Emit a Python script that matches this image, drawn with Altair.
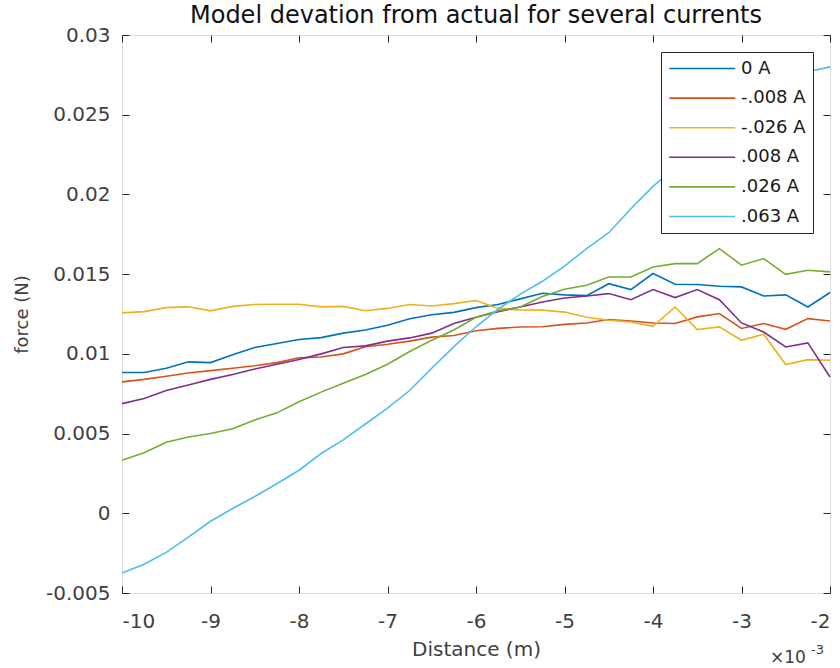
import altair as alt
import pandas as pd

# Distance from the magnet (m); tick labels are shown in units of 10^-3 m
distance_m = [-0.01000, -0.00975, -0.00950, -0.00925, -0.00900, -0.00875, -0.00850, -0.00825,
              -0.00800, -0.00775, -0.00750, -0.00725, -0.00700, -0.00675, -0.00650, -0.00625,
              -0.00600, -0.00575, -0.00550, -0.00525, -0.00500, -0.00475, -0.00450, -0.00425,
              -0.00400, -0.00375, -0.00350, -0.00325, -0.00300, -0.00275, -0.00250, -0.00225,
              -0.00200]

# Model deviation from measurement (N) for each coil current
force_0A = [0.00883, 0.00883, 0.00910, 0.00950, 0.00945, 0.00995, 0.01040, 0.01065,
            0.01090, 0.01102, 0.01130, 0.01150, 0.01180, 0.01220, 0.01245, 0.01260,
            0.01290, 0.01310, 0.01345, 0.01380, 0.01370, 0.01365, 0.01440, 0.01403,
            0.01504, 0.01437, 0.01435, 0.01424, 0.01420, 0.01363, 0.01370, 0.01294,
            0.01385]
force_m008A = [0.00824, 0.00840, 0.00860, 0.00880, 0.00895, 0.00910, 0.00925, 0.00945,
               0.00975, 0.00980, 0.01000, 0.01045, 0.01060, 0.01080, 0.01105, 0.01115,
               0.01145, 0.01160, 0.01168, 0.01170, 0.01185, 0.01194, 0.01215, 0.01206,
               0.01194, 0.01190, 0.01232, 0.01253, 0.01159, 0.01190, 0.01154, 0.01221,
               0.01206]
force_m026A = [0.01257, 0.01265, 0.01290, 0.01295, 0.01270, 0.01298, 0.01310, 0.01311,
               0.01311, 0.01295, 0.01298, 0.01270, 0.01285, 0.01310, 0.01300, 0.01315,
               0.01335, 0.01285, 0.01275, 0.01274, 0.01262, 0.01230, 0.01211, 0.01200,
               0.01173, 0.01294, 0.01152, 0.01169, 0.01085, 0.01123, 0.00933, 0.00964,
               0.00960]
force_008A = [0.00688, 0.00720, 0.00770, 0.00805, 0.00840, 0.00870, 0.00905, 0.00935,
              0.00965, 0.01000, 0.01040, 0.01050, 0.01080, 0.01100, 0.01130, 0.01190,
              0.01230, 0.01265, 0.01294, 0.01325, 0.01350, 0.01363, 0.01378, 0.01340,
              0.01403, 0.01353, 0.01403, 0.01340, 0.01194, 0.01137, 0.01043, 0.01069,
              0.00855]
force_026A = [0.00332, 0.00380, 0.00445, 0.00478, 0.00500, 0.00530, 0.00585, 0.00630,
              0.00700, 0.00760, 0.00815, 0.00870, 0.00935, 0.01015, 0.01085, 0.01150,
              0.01230, 0.01270, 0.01294, 0.01360, 0.01405, 0.01430, 0.01482, 0.01482,
              0.01545, 0.01566, 0.01566, 0.01660, 0.01556, 0.01598, 0.01499, 0.01524,
              0.01514]
force_063A = [-0.00374, -0.00320, -0.00245, -0.00150, -0.00050, 0.00030, 0.00105, 0.00185,
              0.00270, 0.00375, 0.00460, 0.00560, 0.00660, 0.00770, 0.00910, 0.01045,
              0.01170, 0.01280, 0.01375, 0.01455, 0.01550, 0.01660, 0.01760, 0.01910,
              0.02050, 0.02170, 0.02290, 0.02410, 0.02520, 0.02620, 0.02700, 0.02770,
              0.02800]

currents = ["0 A", "-.008 A", "-.026 A", ".008 A", ".026 A", ".063 A"]
series = [force_0A, force_m008A, force_m026A, force_008A, force_026A, force_063A]
colors = ["#0072BD", "#D95319", "#EDB120", "#7E2F8E", "#77AC30", "#4DBEEE"]

x_ticks = [-0.010, -0.009, -0.008, -0.007, -0.006, -0.005, -0.004, -0.003, -0.002]
y_ticks = [-0.005, 0.0, 0.005, 0.010, 0.015, 0.020, 0.025, 0.030]

rows = []
for name, values in zip(currents, series):
    for d, f in zip(distance_m, values):
        rows.append({"distance": d, "force": f, "current": name})
df = pd.DataFrame(rows)

FONT = "DejaVu Sans"
INK = "#262626"
LABEL = "#404040"
W, H = 708, 558
TICK = 7

x_scale = alt.Scale(domain=[-0.010, -0.002], nice=False, zero=False)
y_scale = alt.Scale(domain=[-0.005, 0.030], nice=False, zero=False)

# Inward ticks: axes are pulled inside the frame by the tick length
x_axis = alt.Axis(
    orient="bottom", values=x_ticks, offset=-TICK, tickSize=TICK, tickColor=INK,
    domain=False, grid=False, zindex=1,
    labelExpr="replace(format(datum.value * 1000, 'd'), '\u2212', '-')",
    labelFont=FONT, labelFontSize=20, labelColor=LABEL, labelPadding=18,
    title="Distance (m)", titleFont=FONT, titleFontSize=20, titleFontWeight="normal",
    titleColor=LABEL, titleBaseline="alphabetic", titleY=69,
)
y_axis = alt.Axis(
    orient="left", values=y_ticks, offset=-TICK, tickSize=TICK, tickColor=INK,
    domain=False, grid=False, zindex=1,
    labelExpr="replace(format(datum.value, '~g'), '\u2212', '-')",
    labelFont=FONT, labelFontSize=20, labelColor=LABEL, labelPadding=12,
    title="force (N)", titleFont=FONT, titleFontSize=18, titleFontWeight="normal",
    titleColor=LABEL, titleBaseline="alphabetic", titleX=-102,
)
x_top = alt.Axis(orient="top", values=x_ticks, offset=-TICK, tickSize=TICK, tickColor=INK,
                 domain=False, grid=False, labels=False, title=None, zindex=1)
y_right = alt.Axis(orient="right", values=y_ticks, offset=-TICK, tickSize=TICK, tickColor=INK,
                   domain=False, grid=False, labels=False, title=None, zindex=1)

# Legend key: a 66 px line drawn to the right of a small symbol slot
legend = alt.Legend(
    title=None, orient="top-right", offset=17, zindex=2,
    fillColor="white", strokeColor=INK, padding=7,
    symbolType="M-1,0H7", symbolSize=272, symbolStrokeWidth=1.6,
    labelFont=FONT, labelFontSize=18, labelColor="#1a1a1a",
    labelOffset=54, rowPadding=10.6,
)

lines = alt.Chart(df).mark_line(strokeWidth=1.6).encode(
    x=alt.X("distance:Q", scale=x_scale, axis=x_axis),
    y=alt.Y("force:Q", scale=y_scale, axis=y_axis),
    color=alt.Color("current:N", sort=currents,
                    scale=alt.Scale(domain=currents, range=colors), legend=legend),
)

frame = alt.Chart(df).mark_point(opacity=0).encode(
    x=alt.X("distance:Q", scale=x_scale, axis=x_top),
    y=alt.Y("force:Q", scale=y_scale, axis=y_right),
)

# Axis multiplier for the distance ticks
mult = alt.Chart(alt.Data(values=[{}])).mark_text(
    text="\u00d710", font=FONT, fontSize=17, color=LABEL, align="left", baseline="alphabetic"
).encode(x=alt.value(648), y=alt.value(628))
expo = alt.Chart(alt.Data(values=[{}])).mark_text(
    text="-3", font=FONT, fontSize=13, color=LABEL, align="left", baseline="alphabetic"
).encode(x=alt.value(689), y=alt.value(619))

chart = alt.layer(lines, frame, mult, expo).resolve_axis(
    x="independent", y="independent"
).properties(
    width=W, height=H,
    title=alt.Title("Model devation from actual for several currents", font=FONT, fontSize=24,
                    fontWeight="normal", color="#111111", anchor="middle",
                    baseline="alphabetic", offset=0, dy=22, frame="group"),
    padding={"left": 122, "top": 35, "right": 10, "bottom": 75},
    autosize="none",
).configure_view(stroke=INK, strokeWidth=1).configure(background="white")

chart.save("out.html", embed_options={"renderer": "svg", "actions": False})
